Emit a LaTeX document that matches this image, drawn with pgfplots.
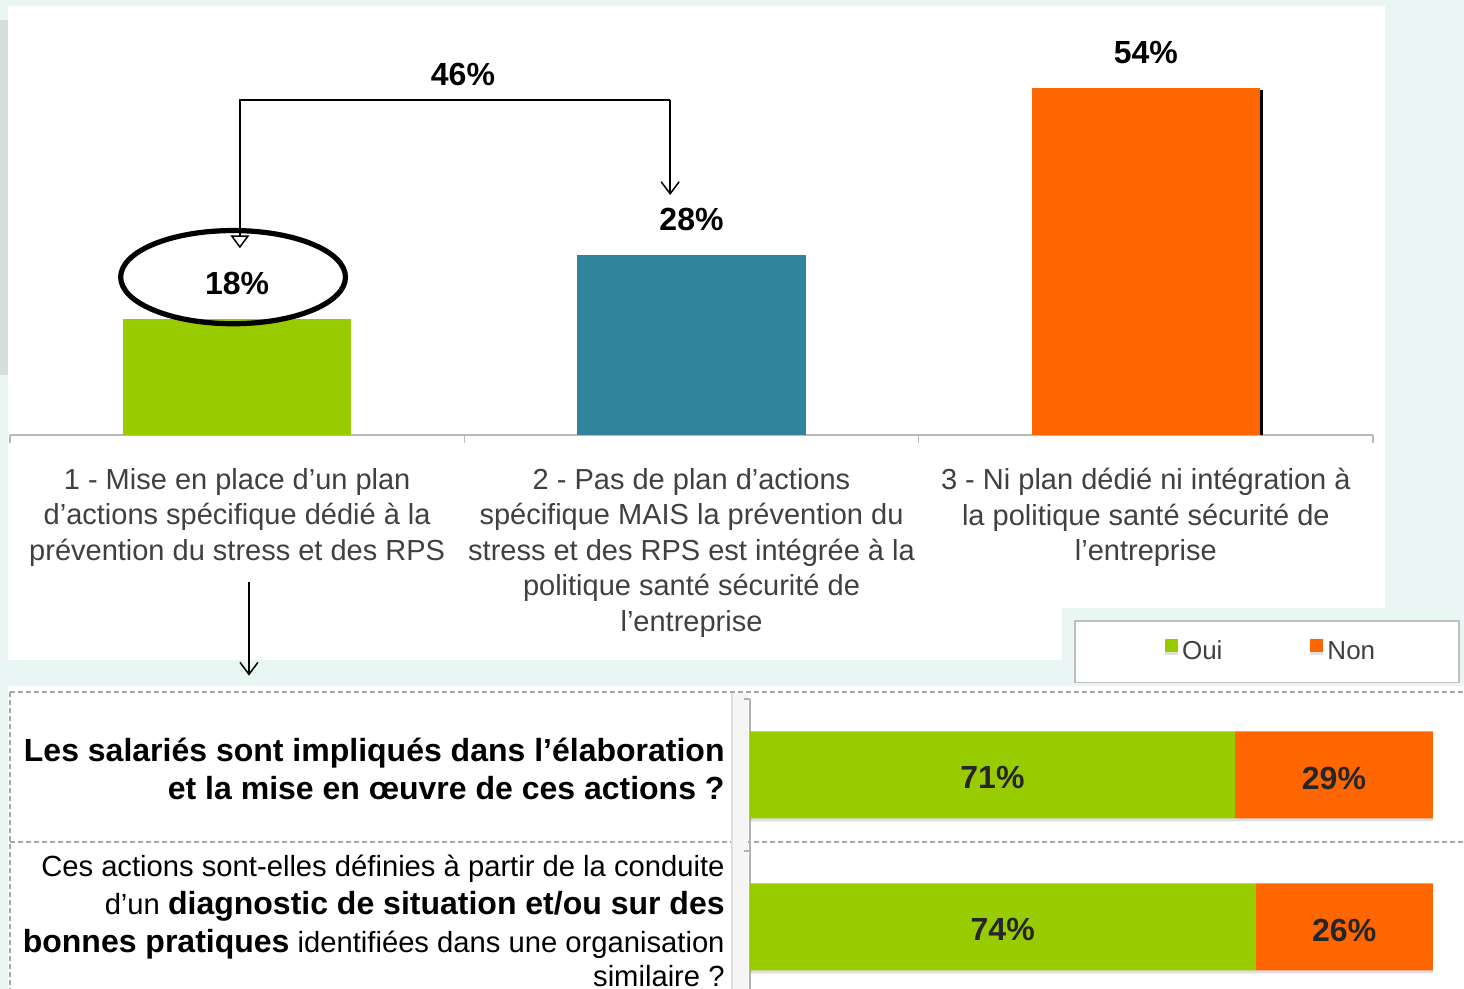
\documentclass[border=0pt]{standalone}
\usepackage{fontspec}
\setmainfont{Liberation Sans}
\usepackage{pgfplots}
\pgfplotsset{compat=1.18}
\usetikzlibrary{arrows.meta,shadows}
\definecolor{cgreen}{HTML}{99CC00}
\definecolor{cteal}{HTML}{31849B}
\definecolor{corange}{HTML}{FF6600}
\definecolor{mint}{HTML}{EAF6F3}
\definecolor{stripgrey}{HTML}{D5DEDC}
\definecolor{labgrey}{HTML}{404040}
\pgfplotsset{sqlegend/.style={legend image code/.code={\path (-5pt,0pt); \fill[##1,draw=none] (0pt,0pt) rectangle (6.5pt,6.5pt);}}}
\newcommand{\bigb}{\bfseries\fontsize{16}{19}\selectfont}
\newcommand{\bq}[1]{{\bfseries\fontsize{16}{19}\selectfont #1}}
\begin{document}
\begin{tikzpicture}
\path[use as bounding box] (0pt,0pt) rectangle (732pt,494.5pt);
\fill[mint] (0pt,0pt) rectangle (732pt,494.5pt);
\fill[white] (4pt,190.5pt) rectangle (692.5pt,491.5pt);
\fill[white] (4pt,164.5pt) rectangle (531pt,190.5pt);
\fill[white] (4pt,0pt) rectangle (732pt,151.5pt);
\fill[stripgrey] (0pt,307pt) rectangle (4pt,484.5pt);
\draw[gray!70, line width=0.6pt, dash pattern=on 2.5pt off 1.5pt] (5pt,148.5pt) -- (732pt,148.5pt);
\draw[gray!70, line width=0.6pt, dash pattern=on 2.5pt off 1.5pt] (5pt,73.5pt) -- (732pt,73.5pt);
\draw[gray!70, line width=0.6pt, dash pattern=on 2.5pt off 1.5pt] (5pt,148.5pt) -- (5pt,0pt);
\fill[gray!8] (366pt,0pt) rectangle (374pt,148pt);
\draw[gray!25, line width=0.8pt] (366pt,148pt) -- (366pt,0pt);

\begin{axis}[
  at={(5pt,277pt)}, anchor=south west,
  scale only axis, width=681.5pt, height=192.5pt,
  xmin=-0.5, xmax=2.5, ymin=0, ymax=60,
  clip=false,
  axis x line*=bottom, axis y line=none,
  x axis line style={draw=gray!55, line width=1.1pt},
  xtick={0,1,2}, major tick length=0pt,
  minor xtick={-0.5,0.5,1.5,2.5}, minor tick length=4pt, tick align=outside,
  minor tick style={draw=gray!55, line width=0.8pt},
  xticklabels={{1 - Mise en place d'un plan\\d'actions spécifique dédié à la\\prévention du stress et des RPS},
               {2 - Pas de plan d'actions\\spécifique MAIS la prévention du\\stress et des RPS est intégrée à la\\politique santé sécurité de\\l'entreprise},
               {3 - Ni plan dédié ni intégration à\\la politique santé sécurité de\\l'entreprise}},
  xticklabel style={font=\fontsize{14.5}{17.75}\selectfont, text=labgrey, align=center, anchor=north, inner sep=0pt, yshift=-16.5pt},
  ybar, bar width=114pt,
  nodes near coords={\pgfmathprintnumber{\pgfplotspointmeta}\%},
  every node near coord/.append style={font=\bigb, anchor=center, yshift=18pt, text=black},
  /pgf/number format/assume math mode=true,
]
\addplot[fill=cgreen, draw=none, bar shift=0pt] coordinates {(0,18)};
\addplot[fill=cteal, draw=none, bar shift=0pt] coordinates {(1,28)};
\addplot[fill=corange, draw=none, bar shift=0pt] coordinates {(2,54)};
\draw[black, line width=1.5pt] (axis cs:2.254,0) -- (axis cs:2.254,53.8);
\draw[black, line width=0.75pt, -{Triangle[open, length=6.5pt, width=9.5pt, fill=white]}]
  (axis cs:0.953,52.2) -- (axis cs:0.006,52.2) -- (axis cs:0.006,29.1);
\draw[black, line width=0.75pt, -{Straight Barb[length=6pt, width=9pt]}]
  (axis cs:0.953,52.2) -- (axis cs:0.953,37.4);
\node[font=\bigb] at (axis cs:0.497,56.2) {46\%};
\draw[black, line width=2.6pt] (axis cs:-0.009,24.6) ellipse [x radius=56.2pt, y radius=23.3pt];
\draw[black, line width=0.75pt, -{Straight Barb[length=6pt, width=9pt]}]
  (axis cs:0.026,-22.9) -- (axis cs:0.026,-37.5);
\end{axis}

\begin{axis}[
  at={(375pt,-7pt)}, anchor=south west,
  scale only axis, width=341.5pt, height=152pt,
  xmin=0, xmax=100, ymin=-0.5, ymax=1.5,
  clip=false,
  xbar stacked, bar width=43.5pt,
  axis y line*=left, axis x line=none,
  y axis line style={draw=gray!60, line width=0.8pt},
  ytick={0,1}, major tick length=0pt,
  minor ytick={0.5,1.5}, minor tick length=3pt, tick align=outside,
  minor tick style={draw=gray!60, line width=0.6pt},
  yticklabels={{Ces actions sont-elles définies à partir de la conduite\\d'un \bq{diagnostic de situation et/ou sur des}\\\bq{bonnes pratiques} identifiées dans une organisation\\[-2pt]similaire ?},
               {\bq{Les salariés sont impliqués dans l'élaboration}\\\bq{et la mise en œuvre de ces actions ?}}},
  yticklabel style={font=\fontsize{14.6}{19}\selectfont, align=right, anchor=east, inner sep=0pt, xshift=-12.5pt, yshift=3pt},
  nodes near coords={\pgfmathprintnumber{\pgfplotspointmeta}\%},
  every node near coord/.append style={font=\bigb, text=black!85, yshift=-1.5pt},
  /pgf/number format/assume math mode=true,
  legend columns=2,
  legend style={at={(1.0395,1.26)}, anchor=north east, draw=gray!50, line width=0.8pt, fill=white,
    font=\fontsize{13}{15}\selectfont, text=labgrey, inner xsep=40pt, inner ysep=8pt,
    /tikz/every even column/.append style={column sep=37pt}},
]
\addplot[fill=cgreen, draw=none, sqlegend, drop shadow={shadow xshift=0pt, shadow yshift=-1.5pt, opacity=0.25}] coordinates {(71,1) (74,0)};
\addplot[fill=corange, draw=none, sqlegend, drop shadow={shadow xshift=0pt, shadow yshift=-1.5pt, opacity=0.25}] coordinates {(29,1) (26,0)};
\legend{Oui,Non}
\end{axis}
\end{tikzpicture}
\end{document}
